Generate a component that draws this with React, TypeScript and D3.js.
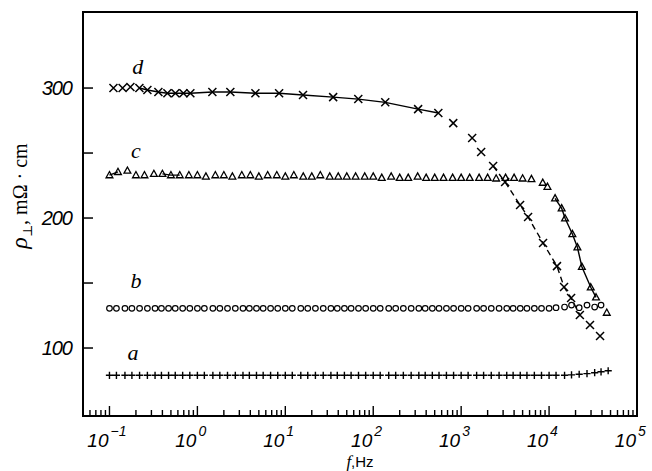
import React, { useEffect, useRef } from "react";
import * as d3 from "d3";

// frequency grid (Hz) shared by curves a and b
const freqAB = [
  0.1, 0.12, 0.15, 0.18, 0.22, 0.27, 0.33, 0.39, 0.47, 0.56, 0.68, 0.82,
  1, 1.2, 1.5, 1.8, 2.2, 2.7, 3.3, 3.9, 4.7, 5.6, 6.8, 8.2,
  10, 12, 15, 18, 22, 27, 33, 39, 47, 56, 68, 82,
  100, 120, 150, 180, 220, 270, 330, 390, 470, 560, 680, 820,
  1000, 1200, 1500, 1800, 2200, 2700, 3300, 3900, 4700, 5600, 6800, 8200,
  10000, 12000, 15000, 18000, 22000, 27000, 33000, 39000, 47000,
];
const rhoA = [
  79, 79, 79, 79, 79, 79, 79, 79, 79, 79, 79, 79,
  79, 79, 79, 79, 79, 79, 79, 79, 79, 79, 79, 79,
  79, 79, 79, 79, 79, 79, 79, 79, 79, 79, 79, 79,
  79, 79, 79, 79, 79, 79, 79, 79, 79, 79, 79, 79,
  79, 79, 79, 79, 79, 79, 79, 79, 79, 79, 79, 79,
  79, 79, 79, 79.3, 79.8, 80.3, 81, 81.7, 82.5,
];
const rhoB = [
  130.5, 130.5, 130.5, 130.5, 130.5, 130.5, 130.5, 130.5, 130.5, 130.5, 130.5, 130.5,
  130.5, 130.5, 130.5, 130.5, 130.5, 130.5, 130.5, 130.5, 130.5, 130.5, 130.5, 130.5,
  130.5, 130.5, 130.5, 130.5, 130.5, 130.5, 130.5, 130.5, 130.5, 130.5, 130.5, 130.5,
  130.5, 130.5, 130.5, 130.5, 130.5, 130.5, 130.5, 130.5, 130.5, 130.5, 130.5, 130.5,
  130.5, 130.5, 130.5, 130.5, 130.5, 130.5, 130.5, 130.5, 130.5, 130.5, 130.5, 130.5,
  130.5, 131, 131.5, 133, 131, 133, 131.5, 133,
];

const freqC = [
  0.1, 0.125, 0.16, 0.2, 0.25, 0.32, 0.4, 0.5, 0.63, 0.8,
  1, 1.25, 1.6, 2, 2.5, 3.2, 4, 5, 6.3, 8,
  10, 12.5, 16, 20, 25, 32, 40, 50, 63, 80,
  100, 125, 160, 200, 250, 320, 400, 500, 630, 800,
  1000, 1250, 1600, 2000, 2500, 3200, 4000, 5000, 6300,
  8470, 9580, 11700, 13900, 15200, 18400, 21000, 23600, 29800, 34200, 45300,
];
const rhoC = [
  233, 235.5, 236.5, 233, 233, 234, 234, 233, 233, 233,
  233, 232, 233, 233, 232, 233, 233, 232, 233, 233,
  232, 233, 232, 232, 233, 232, 232, 232, 232, 232,
  232, 231, 232, 231, 231, 232, 231, 231, 231, 231,
  231, 231, 231, 231, 230.5, 231, 231, 230.5, 230,
  227.2, 224.1, 215.2, 207.5, 199.8, 187.7, 177.5, 162.5, 146.7, 139, 127.2,
];

const freqD = [
  0.111, 0.141, 0.173, 0.219, 0.27, 0.36, 0.456, 0.562, 0.693, 0.832,
  1.48, 2.37, 4.57, 8.5, 15.9, 35, 67.6, 137, 324, 550,
  813, 1334, 1688, 2310, 3162, 4680, 5770, 8540, 12300, 14800,
  17800, 22400, 29200, 38000,
];
const rhoD = [
  300, 300, 300.8, 300, 298.5, 297, 296, 296, 296, 296,
  297, 297, 296, 296, 294.6, 293, 291.5, 289, 283.8, 280.8,
  273, 261.5, 250.8, 240, 227.7, 210, 200.8, 180.8, 163, 147,
  138.5, 125.4, 117.7, 109.2,
];

const yTicks = [100, 150, 200, 250, 300];
const yTickLabels = [100, 200, 300];
const xExponents = [-1, 0, 1, 2, 3, 4, 5];

const curveLabels = [
  { text: "d", f: 0.21, v: 311 },
  { text: "c", f: 0.2, v: 246 },
  { text: "b", f: 0.2, v: 146 },
  { text: "a", f: 0.185, v: 91 },
];

export default function App() {
  const ref = useRef<SVGSVGElement>(null);

  useEffect(() => {
    const svg = d3.select(ref.current);
    svg.selectAll("*").remove();

    const x = d3.scaleLog().domain([0.05, 1e5]).range([83, 637]);
    const y = d3.scaleLinear().domain([47.7, 358.5]).range([416, 12]);
    const tickFont = "'Liberation Sans', Arial, sans-serif";
    const serif = "'Liberation Serif', 'DejaVu Serif', serif";

    // frame
    svg.append("rect")
      .attr("x", 83).attr("y", 12)
      .attr("width", 554).attr("height", 404)
      .attr("fill", "none").attr("stroke", "#000").attr("stroke-width", 2);

    // x ticks (inside, bottom)
    const xt = x.ticks().filter(t => t >= 0.05 && t <= 1e5);
    svg.append("g").selectAll("line")
      .data(xt).enter().append("line")
      .attr("x1", d => x(d)).attr("x2", d => x(d))
      .attr("y1", 416)
      .attr("y2", d => Math.abs(Math.log10(d) - Math.round(Math.log10(d))) < 1e-6 ? 406 : 410)
      .attr("stroke", "#000").attr("stroke-width", 1.4);

    // x tick labels 10^n
    const xl = svg.append("g")
      .attr("font-family", tickFont).attr("font-style", "italic");
    xExponents.forEach(e => {
      const px = x(Math.pow(10, e));
      xl.append("text").attr("x", px - 1).attr("y", 447)
        .attr("text-anchor", "end").attr("font-size", 19).text("10");
      xl.append("text").attr("x", px + 1).attr("y", 436)
        .attr("text-anchor", "start").attr("font-size", 14)
        .text(e < 0 ? "\u2212" + Math.abs(e) : String(e));
    });

    // y ticks (inside, left)
    svg.append("g").selectAll("line")
      .data(yTicks).enter().append("line")
      .attr("x1", 83).attr("x2", 93)
      .attr("y1", d => y(d)).attr("y2", d => y(d))
      .attr("stroke", "#000").attr("stroke-width", 1.5);
    svg.append("g").selectAll("text")
      .data(yTickLabels).enter().append("text")
      .attr("x", 72).attr("y", d => y(d))
      .attr("dy", "0.35em")
      .attr("text-anchor", "end")
      .attr("font-family", tickFont).attr("font-style", "italic")
      .attr("font-size", 20)
      .attr("letter-spacing", -1)
      .text(d => d);

    // axis titles
    svg.append("text")
      .attr("x", 360).attr("y", 467)
      .attr("text-anchor", "middle")
      .attr("font-family", tickFont).attr("font-size", 15)
      .call(t => {
        t.append("tspan").attr("font-family", serif).attr("font-style", "italic")
          .attr("font-size", 17).text("f");
        t.append("tspan").text(",Hz");
      });

    const yl = svg.append("text")
      .attr("transform", "translate(27,196) rotate(-90)")
      .attr("text-anchor", "middle")
      .attr("font-family", serif).attr("font-size", 20);
    yl.append("tspan").attr("font-style", "italic").attr("font-size", 24).text("\u03C1");
    yl.append("tspan").attr("font-size", 13).attr("dy", 5).text("\u22A5");
    yl.append("tspan").attr("dy", -5).text(", m\u03A9 \u00B7 cm");

    // connecting lines
    const line = d3.line<[number, number]>()
      .x(d => x(d[0])).y(d => y(d[1]));
    const pairs = (fs: number[], vs: number[]) =>
      vs.map((v, i) => [fs[i], v] as [number, number]);

    const dPts = pairs(freqD, rhoD);
    const cPts = pairs(freqC, rhoC);
    const segs = [
      { pts: dPts.slice(3, 20), dash: null },
      { pts: dPts.slice(23, 32), dash: "6,4" },
      { pts: cPts.slice(0, 2), dash: null },
      { pts: cPts.slice(6, 9), dash: null },
      { pts: cPts.slice(51, 59), dash: null },
    ];
    segs.forEach(s => {
      svg.append("path")
        .attr("d", line(s.pts))
        .attr("fill", "none").attr("stroke", "#000").attr("stroke-width", 1.4)
        .attr("stroke-dasharray", s.dash);
    });

    // markers
    const g = svg.append("g").attr("fill", "none").attr("stroke", "#000");
    g.selectAll(".mA").data(pairs(freqAB, rhoA)).enter().append("path")
      .attr("transform", d => `translate(${x(d[0])},${y(d[1])})`)
      .attr("d", "M-3.6,0H3.6M0,-3.6V3.6").attr("stroke-width", 1.4);
    g.selectAll(".mB").data(pairs(freqAB, rhoB)).enter().append("circle")
      .attr("cx", d => x(d[0])).attr("cy", d => y(d[1]))
      .attr("r", 2.8).attr("stroke-width", 1.2);
    g.selectAll(".mC").data(cPts).enter().append("path")
      .attr("transform", d => `translate(${x(d[0])},${y(d[1])})`)
      .attr("d", "M0,-3.6L3.4,2.6L-3.4,2.6Z").attr("stroke-width", 1.3);
    g.selectAll(".mD").data(dPts).enter().append("path")
      .attr("transform", d => `translate(${x(d[0])},${y(d[1])})`)
      .attr("d", "M-4,-4L4,4M-4,4L4,-4").attr("stroke-width", 1.5);

    // curve labels
    svg.append("g").selectAll("text")
      .data(curveLabels).enter().append("text")
      .attr("x", d => x(d.f)).attr("y", d => y(d.v))
      .attr("text-anchor", "middle")
      .attr("font-family", serif).attr("font-style", "italic")
      .attr("font-size", 22)
      .text(d => d.text);
  }, []);

  return (
    <svg
      ref={ref}
      width={652}
      height={471}
      style={{ position: "absolute", left: 0, top: 0, background: "#fff" }}
    />
  );
}
